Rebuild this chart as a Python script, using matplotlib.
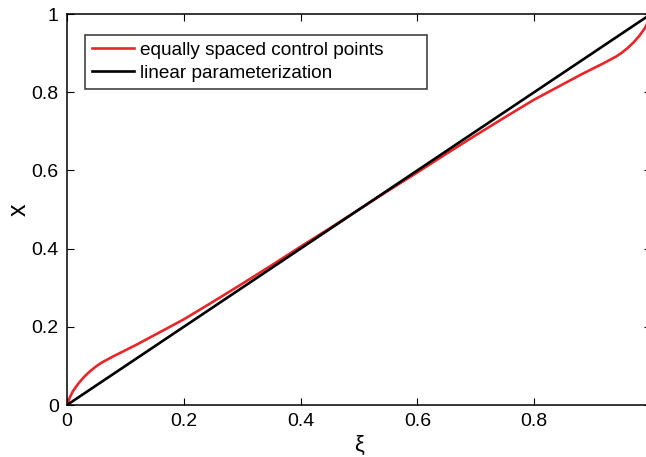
import numpy as np
import matplotlib
matplotlib.use("Agg")
import matplotlib.pyplot as plt

plt.rcParams['font.family'] = ['Liberation Sans', 'DejaVu Sans']

# red curve (equally spaced control points), left half; right half mirrored
xi_half = [0.0, 0.005, 0.01, 0.02, 0.03, 0.04, 0.05, 0.06, 0.07, 0.08, 0.1, 0.12, 0.15,
           0.2, 0.25, 0.3, 0.35, 0.4, 0.45, 0.5]
x_half = [0.0, 0.02, 0.035, 0.056, 0.073, 0.087, 0.099, 0.109, 0.117, 0.125, 0.14, 0.155, 0.179,
          0.219, 0.264, 0.310, 0.357, 0.405, 0.452, 0.5]
xi_red = np.concatenate([xi_half, 1 - np.array(xi_half[-2::-1])])
x_red = np.concatenate([x_half, 1 - np.array(x_half[-2::-1])])

xi_lin = [0.0, 1.0]
x_lin = [0.0, 1.0]

xticks = [0, 0.2, 0.4, 0.6, 0.8]
xtick_labels = ['0', '0.2', '0.4', '0.6', '0.8']
yticks = [0, 0.2, 0.4, 0.6, 0.8, 1]
ytick_labels = ['0', '0.2', '0.4', '0.6', '0.8', '1']

W, H = 646, 457
fig = plt.figure(figsize=(W / 100, H / 100), dpi=100)
left, right, top, bottom = 67, 651, 14, 405
aw, ah = right - left, bottom - top
ax = fig.add_axes([left / W, 1 - bottom / H, aw / W, ah / H])

ax.plot(xi_red, x_red, color='#e8262a', lw=1.9, label='equally spaced control points')
ax.plot(xi_lin, x_lin, color='black', lw=1.9, label='linear parameterization')

ax.set_xlim(0, 1)
ax.set_ylim(0, 1)
ax.set_xticks(xticks)
ax.set_xticklabels(xtick_labels)
ax.set_yticks(yticks)
ax.set_yticklabels(ytick_labels)
ax.tick_params(direction='in', length=5, width=0.8, labelsize=14, top=True, right=True, pad=6)
for s in ax.spines.values():
    s.set_linewidth(1.1)

ax.set_xlabel('ξ', fontsize=16, labelpad=3)
ax.set_ylabel('x', fontsize=18)
ax.yaxis.set_label_coords((31 - left) / aw, 0.5)

# legend box: x 85..427, y 35..89
lx0, lx1, ly0, ly1 = 85, 427, 35, 89
leg = ax.legend(loc='upper left', mode='expand',
                bbox_to_anchor=((lx0 - left) / aw, 1 - (ly1 - top) / ah,
                                (lx1 - lx0) / aw, (ly1 - ly0) / ah),
                fontsize=13.7, frameon=True, fancybox=False, edgecolor='black',
                handlelength=2.2, handletextpad=0.35, borderpad=0.35, labelspacing=0.3,
                borderaxespad=0)
leg.get_frame().set_linewidth(1.1)

fig.savefig('out.png', dpi=100)
